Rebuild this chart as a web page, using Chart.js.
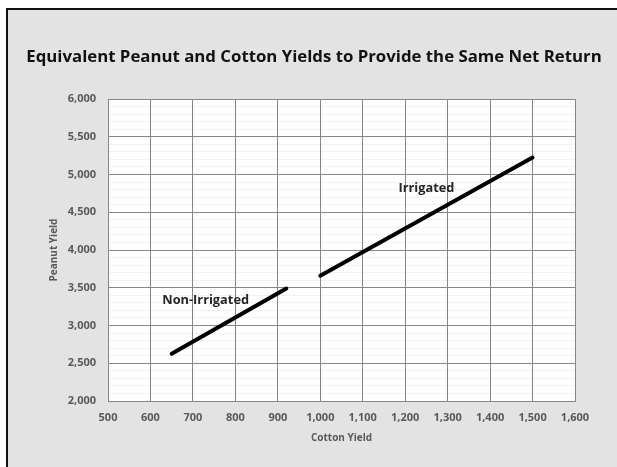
<!DOCTYPE html>
<html>
<head>
<meta charset="utf-8">
<script src="https://cdn.jsdelivr.net/npm/chart.js@4"></script>
<style>
    html, body { margin: 0; padding: 0; background: #fff; }
</style>
</head>
<body>
<canvas id="yieldChart" width="617" height="467"></canvas>
<script>
const chartTitle = 'Equivalent Peanut and Cotton Yields to Provide the Same Net Return';
const seriesNames = ['Non-Irrigated', 'Irrigated'];

// cotton yield (x) and peanut yield (y) end points of each line
const nonIrrigatedCotton = [650, 920];
const nonIrrigatedPeanut = [2625, 3490];
const irrigatedCotton = [1000, 1500];
const irrigatedPeanut = [3660, 5225];

// axis ranges
const cottonTicks = [500, 600, 700, 800, 900, 1000, 1100, 1200, 1300, 1400, 1500, 1600];
const peanutTicks = [2000, 2500, 3000, 3500, 4000, 4500, 5000, 5500, 6000];

// where the series names sit (in data units)
const seriesLabelAt = [[730, 3281], [1250, 4764]];

const fmt = v => v.toLocaleString('en-US');

// Helper: pair up x/y arrays for the line datasets
function points(xs, ys) {
    return xs.map((x, i) => ({ x: x, y: ys[i] }));
}

const framePlugin = {
    id: 'frame',
    beforeDraw(chart) {
        const ctx = chart.ctx;
        const a = chart.chartArea;
        ctx.save();
        ctx.fillStyle = '#ffffff';
        ctx.fillRect(0, 0, chart.width, chart.height);
        ctx.fillStyle = '#e3e3e3';
        ctx.fillRect(6, 8, chart.width - 6, chart.height - 8);
        ctx.fillStyle = '#111';
        ctx.fillRect(6, 8, 2, chart.height - 8);
        ctx.fillRect(6, 8, chart.width - 6, 2);
        ctx.fillStyle = '#ffffff';
        ctx.fillRect(a.left, a.top, a.right - a.left, a.bottom - a.top);
        ctx.restore();
    },
    afterDraw(chart) {
        const ctx = chart.ctx;
        ctx.save();
        // chart title
        ctx.fillStyle = '#111';
        ctx.font = 'bold 16.8px "Open Sans"';
        ctx.textAlign = 'center';
        ctx.textBaseline = 'alphabetic';
        ctx.fillText(chartTitle, 314, 62);
        // series names next to the lines
        const xs = chart.scales.x, ys = chart.scales.y;
        ctx.fillStyle = '#262626';
        ctx.font = 'bold 12.8px "Open Sans"';
        seriesNames.forEach((name, i) => {
            ctx.fillText(name, xs.getPixelForValue(seriesLabelAt[i][0]), ys.getPixelForValue(seriesLabelAt[i][1]));
        });
        ctx.restore();
    }
};

const tickFont = { family: 'Open Sans', size: 11, weight: 'bold' };
const titleFont = { family: 'Open Sans', size: 10, weight: 'bold' };

new Chart(document.getElementById('yieldChart').getContext('2d'), {
    type: 'line',
    data: {
        datasets: [
            {
                label: seriesNames[0],
                data: points(nonIrrigatedCotton, nonIrrigatedPeanut),
                borderColor: '#000',
                borderWidth: 4,
                borderCapStyle: 'round',
                pointRadius: 0
            },
            {
                label: seriesNames[1],
                data: points(irrigatedCotton, irrigatedPeanut),
                borderColor: '#000',
                borderWidth: 4,
                borderCapStyle: 'round',
                pointRadius: 0
            }
        ]
    },
    options: {
        responsive: false,
        animation: false,
        layout: { padding: { top: 99, right: 42, bottom: 0, left: 0 } },
        plugins: {
            legend: { display: false },
            title: { display: false },
            tooltip: { enabled: false }
        },
        scales: {
            x: {
                type: 'linear',
                min: cottonTicks[0],
                max: cottonTicks[cottonTicks.length - 1],
                afterFit: s => { s.height = 66; },
                border: { color: '#868686', width: 1 },
                grid: { color: '#868686', drawTicks: false },
                ticks: {
                    stepSize: 100,
                    autoSkip: false,
                    maxRotation: 0,
                    padding: 10,
                    color: '#595959',
                    font: tickFont,
                    callback: v => cottonTicks.includes(v) ? fmt(v) : ''
                },
                title: {
                    display: true,
                    text: 'Cotton Yield',
                    color: '#595959',
                    font: titleFont,
                    padding: { top: 0, bottom: 23 }
                }
            },
            y: {
                type: 'linear',
                min: peanutTicks[0],
                max: peanutTicks[peanutTicks.length - 1],
                afterFit: s => { s.width = 108; },
                border: { color: '#868686', width: 1 },
                grid: {
                    drawTicks: false,
                    // faint minor lines every 100, translucent so the verticals stay solid
                    color: c => peanutTicks.includes(c.tick.value) ? '#868686' : 'rgba(0,0,0,0.05)'
                },
                ticks: {
                    stepSize: 100,
                    autoSkip: false,
                    padding: 12,
                    color: '#595959',
                    font: tickFont,
                    callback: v => peanutTicks.includes(v) ? fmt(v) : ''
                },
                title: {
                    display: true,
                    text: 'Peanut Yield',
                    color: '#595959',
                    font: titleFont,
                    padding: { top: 48, bottom: 0 }
                }
            }
        }
    },
    plugins: [framePlugin]
});
</script>
</body>
</html>
